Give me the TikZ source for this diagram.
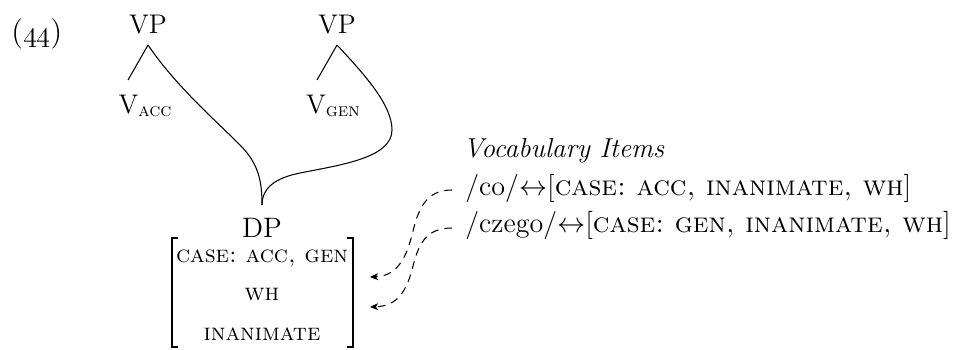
\documentclass[tikz,border=0pt]{standalone}
\usetikzlibrary{calc,arrows.meta}
\begin{document}
\frenchspacing
\begin{tikzpicture}[x=0.427pt,y=-0.427pt,
  lbl/.style={inner sep=0pt,anchor=base,font=\fontsize{11.5}{13}\selectfont},
  feat/.style={inner sep=0pt,anchor=base,font=\fontsize{10.2}{12}\selectfont\scshape},
  voc/.style={inner sep=0pt,anchor=base west,font=\fontsize{12}{14}\selectfont},
  branch/.style={line width=0.45pt},
  vi/.style={dash pattern=on 3.3pt off 2.6pt, line width=0.45pt,
    -{Stealth[length=3.5pt,width=3pt,inset=1pt]}},
  brk/.style={line width=0.85pt}]
\useasboundingbox (0,0) rectangle (955,349);
% example number
\node[lbl,anchor=base west,font=\fontsize{13}{15}\selectfont] (ex) at (11,41) {(\oldstylenums{44})};
% trees
\node[lbl] (vp1) at (148,33) {VP};
\node[lbl] (vp2) at (337,33) {VP};
\node[lbl] (vacc) at (145,113) {V\raisebox{-0.3ex}{\footnotesize\textsc{acc}}};
\node[lbl] (vgen) at (333,113) {V\raisebox{-0.3ex}{\footnotesize\textsc{gen}}};
\node[lbl,font=\fontsize{12}{14}\selectfont] (dp) at (262,237) {DP};
\node[feat] (f1) at (262,262) {case: acc, gen};
\node[feat] (f2) at (262,300) {wh};
\node[feat] (f3) at (262,340) {inanimate};
\coordinate (a1) at ($(vp1.base)+(0,12)$);
\coordinate (a2) at ($(vp2.base)+(0,12)$);
\coordinate (b1) at ($(vacc.base)+(-17,-33)$);
\coordinate (b2) at ($(vgen.base)+(-16,-33)$);
\coordinate (d) at ($(dp.base)+(0,-32)$);
\draw[branch] (a1) -- (b1);
\draw[branch] (a2) -- (b2);
\draw[branch] (a1) .. controls +(27,40) and +(-25,-25) .. ($(a1)+(92,100)$)
  .. controls +(18,18) and +(0,-25) .. (d);
\draw[branch] (a2) .. controls +(28,30) and +(0,-25) .. ($(a2)+(55,85)$)
  .. controls +(0,28) and +(40,-8) .. ($(a2)+(-37,128)$)
  .. controls +(-25,5) and +(0,-17) .. (d);
% brackets of the feature matrix
\draw[brk] (178,238) -| (172,347) -- (178,347);
\draw[brk] (347,238) -| (353,347) -- (347,347);
% vocabulary items
\node[voc,font=\fontsize{11.7}{14}\selectfont\itshape] (vt) at (463,157) {Vocabulary Items};
\node[voc] (v1) at (465,195) {/co/$\leftrightarrow$[\textsc{case: acc, inanimate, wh}]};
\node[voc] (v2) at (465,232) {/czego/$\leftrightarrow$[\textsc{case: gen, inanimate, wh}]};
\coordinate (s1) at ($(v1.base west)+(-13,-5)$);
\coordinate (s2) at ($(v2.base west)+(-13,-4)$);
\coordinate (t1) at ($(f1.base)+(108,15)$);
\coordinate (t2) at ($(f2.base)+(108,7)$);
\draw[vi] (s1) .. controls +(-27,0) and +(6,-25) .. ($(s1)+(-40,45)$)
  .. controls +(-7,27) and +(25,-1) .. (t1);
\draw[vi] (s2) .. controls +(-27,0) and +(6,-25) .. ($(s2)+(-40,42)$)
  .. controls +(-7,25) and +(25,-1) .. (t2);
\end{tikzpicture}
\end{document}
